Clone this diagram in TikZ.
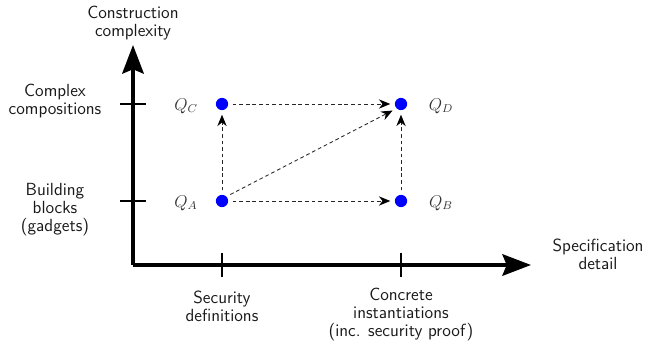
\documentclass[tikz,border=0pt]{standalone}
\usetikzlibrary{arrows.meta}
\begin{document}
\begin{tikzpicture}[x=0.7pt,y=-0.7pt,
  axis/.style={line width=2.6pt,-{Stealth[length=20pt,width=15pt,inset=3pt]}},
  tick/.style={line width=2pt},
  dot/.style={circle,fill=blue,inner sep=0pt,minimum size=8.6pt},
  rel/.style={semithick,black!85,dash pattern=on 2.6pt off 2pt,shorten >=3pt,shorten <=3pt,-{Stealth[length=8pt,width=6.5pt,black]}},
  lab/.style={font=\fontsize{12.3}{12.6}\selectfont\sffamily,align=center,text=black!90},
  qlab/.style={font=\fontsize{12}{14}\selectfont,text=black!80}]
\useasboundingbox (0,0) rectangle (648,342);
\coordinate (O) at (133,265);
\coordinate (ytop) at (133,45);
\coordinate (xend) at (531,265);
\draw[axis] (O) -- (ytop);
\draw[axis] (O) -- (xend);
% ticks
\coordinate (ty1a) at (120,104); \coordinate (ty1b) at (146,104);
\coordinate (ty2a) at (120,201); \coordinate (ty2b) at (146,201);
\coordinate (tx1a) at (222,253); \coordinate (tx1b) at (222,277);
\coordinate (tx2a) at (401,253); \coordinate (tx2b) at (401,277);
\draw[tick] (ty1a) -- (ty1b);
\draw[tick] (ty2a) -- (ty2b);
\draw[tick] (tx1a) -- (tx1b);
\draw[tick] (tx2a) -- (tx2b);
% points
\node[dot] (C) at (222,104) {};
\node[dot] (D) at (401,104) {};
\node[dot] (A) at (222,201) {};
\node[dot] (B) at (401,201) {};
\node[qlab] (lC) at (186,106) {$Q_C$};
\node[qlab] (lD) at (441,106) {$Q_D$};
\node[qlab] (lA) at (186,203) {$Q_A$};
\node[qlab] (lB) at (441,203) {$Q_B$};
\draw[rel] (A) -- (B);
\draw[rel] (A) -- (C);
\draw[rel] (C) -- (D);
\draw[rel] (B) -- (D);
\draw[rel] (A.north east) -- (D.south west);
% labels
\node[lab] (ly) at (133,23) {Construction\\complexity};
\node[lab] (lcc) at (55,101) {Complex\\compositions};
\node[lab] (lbb) at (55,210) {Building\\blocks\\(gadgets)};
\node[lab] (lsd) at (222,306) {Security\\definitions};
\node[lab] (lci) at (401,315) {Concrete\\instantiations\\(inc. security proof)};
\node[lab] (lx) at (598,254) {Specification\\detail};
\end{tikzpicture}
\end{document}
